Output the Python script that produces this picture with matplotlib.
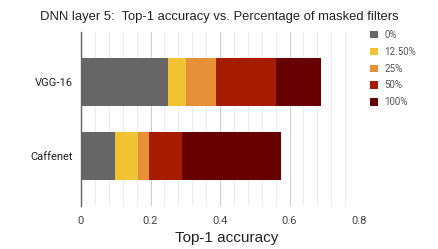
import matplotlib
matplotlib.use("Agg")
import matplotlib.pyplot as plt
import numpy as np

categories = ["VGG-16", "Caffenet"]
series_labels = ["0%", "12.50%", "25%", "50%", "100%"]
# segment widths (stacked)
vgg = [0.251, 0.052, 0.085, 0.173, 0.129]
caffenet = [0.099, 0.064, 0.034, 0.094, 0.285]
colors = ["#666666", "#f1c232", "#e69138", "#a61c00", "#660000"]
xticks = [0, 0.2, 0.4, 0.6, 0.8]
xtick_labels = ["0", "0.2", "0.4", "0.6", "0.8"]

plt.rcParams['font.family'] = ['Roboto', 'DejaVu Sans']

fig = plt.figure(figsize=(4.38, 2.49), dpi=100)
ax = fig.add_axes([81/438, 1-206/249, (359-81)/438, (206-32)/249])

data = np.array([vgg, caffenet])
y = np.arange(len(categories))
left = np.zeros(len(categories))
handles = []
for i, lab in enumerate(series_labels):
    h = ax.barh(y, data[:, i], left=left, height=0.645, color=colors[i], label=lab, zorder=3)
    handles.append(h)
    left += data[:, i]

ax.set_xlim(0, 0.8)
ax.set_ylim(1.67, -0.67)
ax.set_yticks(y)
ax.set_yticklabels(categories, fontsize=8, color="#222222")
ax.set_xticks(xticks)
ax.set_xticklabels(xtick_labels, fontsize=8, color="#444444")
ax.set_xticks(np.arange(0, 0.81, 0.04), minor=True)
ax.grid(axis='x', which='major', color="#d0d0d0", linewidth=0.8, zorder=0)
ax.grid(axis='x', which='minor', color="#ececec", linewidth=0.8, zorder=0)
ax.tick_params(axis='both', which='both', length=0)
ax.tick_params(axis='x', pad=7)
ax.tick_params(axis='y', pad=6)
for s in ['top', 'right', 'bottom']:
    ax.spines[s].set_visible(False)
ax.spines['left'].set_color("#666666")
ax.spines['left'].set_linewidth(1)
ax.spines['left'].set_zorder(4)

fig.text(227/438, 1-238/249, "Top-1 accuracy", ha='center', va='center',
         fontsize=11, color="#222222", family=['Liberation Sans', 'DejaVu Sans'])
fig.text(219/438, 1-17/249, "DNN layer 5:  Top-1 accuracy vs. Percentage of masked filters",
         ha='center', va='center', fontsize=9.4, color="#222222",
         family=['Liberation Sans', 'DejaVu Sans'])

leg = fig.legend(handles=handles, labels=series_labels, loc='upper left',
                 bbox_to_anchor=(370/438, 1-30/249), frameon=False, fontsize=7,
                 handlelength=0.8, handleheight=0.8, handletextpad=0.7,
                 labelspacing=0.7, borderaxespad=0, borderpad=0)
for t in leg.get_texts():
    t.set_color("#555555")

fig.savefig("out.png", dpi=100)
